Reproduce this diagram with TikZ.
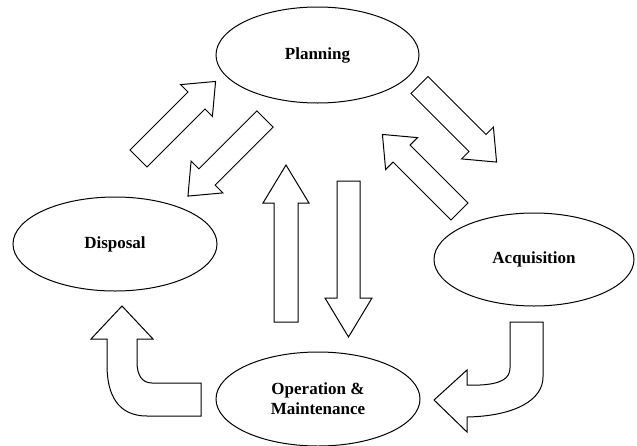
\documentclass[tikz,border=0pt]{standalone}
\usepackage{fontspec}
\setmainfont{Liberation Serif}
\usetikzlibrary{shapes.geometric}

% Block arrow: tail centre, direction angle, length, shaft half-width,
% head half-width, head length
\newcommand{\blockarrow}[7]{%
  \begin{scope}[shift={(#1,#2)},rotate=#3]
    \draw[blk] (0,-#5) -- ({#4-#7},-#5) -- ({#4-#7},-#6) -- (#4,0)
      -- ({#4-#7},#6) -- ({#4-#7},#5) -- (0,#5) -- cycle;
  \end{scope}}

\begin{document}
\begin{tikzpicture}[x=1pt,y=-1pt,
  phase/.style={draw, ellipse, line width=1pt, inner sep=0pt,
    font=\bfseries\fontsize{17}{20}\selectfont, align=center},
  blk/.style={draw, line width=1pt, fill=white, line join=miter}]
  \useasboundingbox (0,0) rectangle (637,445);
  \clip (0,0) rectangle (637,445);

  % life-cycle phases
  \node[phase, minimum width=203pt, minimum height=96pt] (plan) at (317.5,55) {Planning};
  \node[phase, minimum width=204pt, minimum height=94pt] (disp) at (115,244) {Disposal};
  \node[phase, minimum width=200pt, minimum height=93pt] (acq) at (534,259.5) {Acquisition};
  \node[phase, minimum width=204pt, minimum height=94pt] (om) at (318,399) {Operation \&\\Maintenance};

  % diagonal arrows between planning and the side phases
  \blockarrow{138.5}{158.5}{45}{109}{12}{22.5}{27}
  \blockarrow{265}{119}{225}{109}{11.5}{22.5}{27}
  \blockarrow{419.5}{85}{-45}{109}{12}{22.5}{27}
  \blockarrow{459.5}{211.5}{135}{109}{12}{22.5}{27}

  % vertical arrows between planning and operation
  \blockarrow{286}{322}{90}{157}{12}{23}{38}
  \blockarrow{348.5}{181}{-90}{156}{11.5}{23.5}{39}

  % bent arrow: acquisition to operation
  \draw[blk] (510,322) -- (543,322) -- (543,377)
    .. controls (543,400) and (515,416) .. (467,417)
    -- (467,432) -- (434,400) -- (467,370) -- (467,385) -- (480,385)
    .. controls (500,384) and (510,379) .. (510,368) -- cycle;

  % bent arrow: operation to disposal
  \draw[blk] (122,306) -- (153,339) -- (137,339) -- (137,362)
    .. controls (137,375) and (142,383) .. (152,383)
    -- (201,383) -- (201,416) -- (147,416)
    .. controls (118,416) and (107,395) .. (107,365)
    -- (107,339) -- (91,339) -- cycle;
\end{tikzpicture}
\end{document}
